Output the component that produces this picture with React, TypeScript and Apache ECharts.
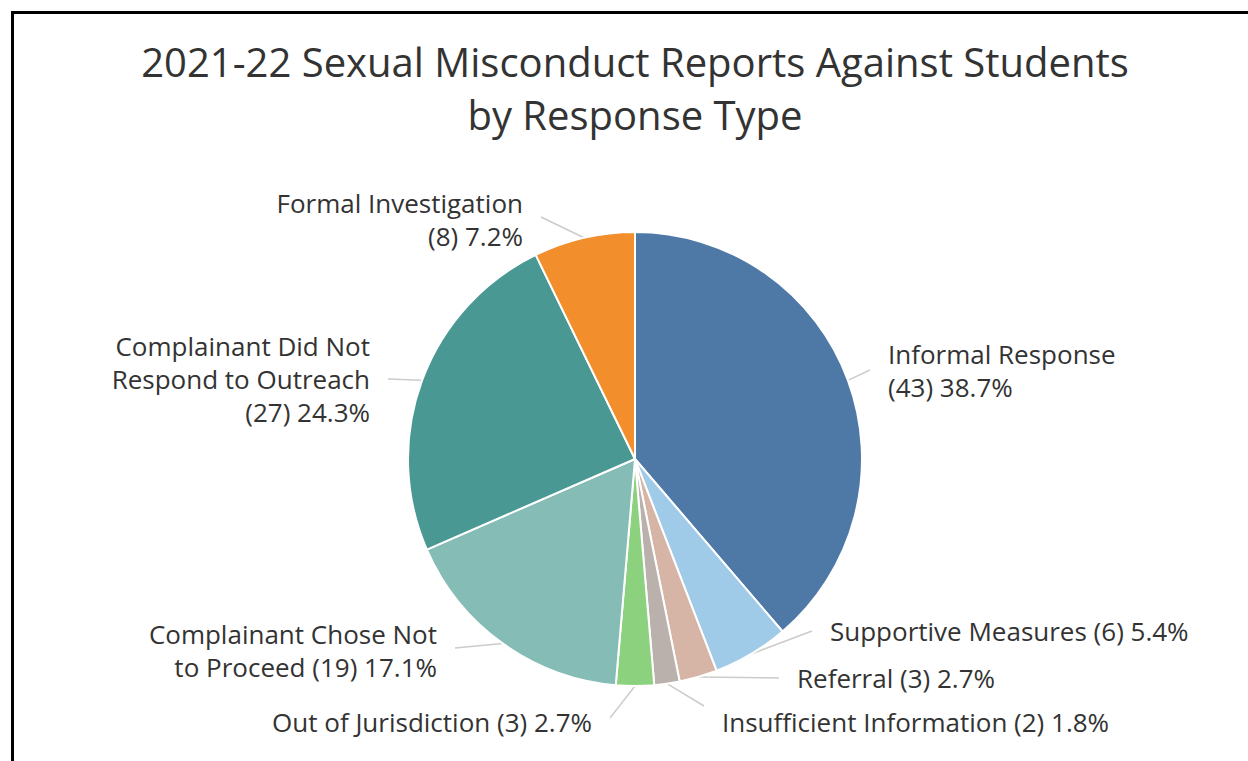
import React, { useEffect, useRef } from "react";
import * as echarts from "echarts";

const titleLines = [
  "2021-22 Sexual Misconduct Reports Against Students",
  "by Response Type",
];

const categories = [
  "Informal Response",
  "Supportive Measures",
  "Referral",
  "Insufficient Information",
  "Out of Jurisdiction",
  "Complainant Chose Not to Proceed",
  "Complainant Did Not Respond to Outreach",
  "Formal Investigation",
];

const counts = [43, 6, 3, 2, 3, 19, 27, 8];

// how each category name is wrapped in its label
const labelNames = [
  "Informal Response\n",
  "Supportive Measures ",
  "Referral ",
  "Insufficient Information ",
  "Out of Jurisdiction ",
  "Complainant Chose Not\nto Proceed ",
  "Complainant Did Not\nRespond to Outreach\n",
  "Formal Investigation\n",
];

const colors = [
  "#4e79a7",
  "#a0cbe8",
  "#d7b5a6",
  "#bab0ac",
  "#8cd17d",
  "#86bcb6",
  "#499894",
  "#f28e2b",
];

// label placement (layout only)
const placement: { x: number; y: number; align: "left" | "right"; dy: number }[] = [
  { x: 888, y: 370, align: "left", dy: 0 },
  { x: 830, y: 631, align: "left", dy: 0 },
  { x: 797, y: 678, align: "left", dy: 0 },
  { x: 722, y: 722, align: "left", dy: -16 },
  { x: 592, y: 722, align: "right", dy: -4 },
  { x: 437, y: 650, align: "right", dy: -2 },
  { x: 370, y: 379, align: "right", dy: 0 },
  { x: 523, y: 219, align: "right", dy: -2 },
];

const FONT = "'Open Sans', 'Noto Sans', sans-serif";
const TEXT = "#333333";

export default function App() {
  const ref = useRef<HTMLDivElement>(null);

  useEffect(() => {
    if (!ref.current) return;
    const chart = echarts.init(ref.current, undefined, { renderer: "svg" });
    const total = counts.reduce((a, b) => a + b, 0);
    const gap = 18;

    chart.setOption({
      animation: false,
      backgroundColor: "#ffffff",
      graphic: [
        {
          type: "rect",
          shape: { x: 12.5, y: 12.5, width: 1400, height: 900 },
          style: { fill: "none", stroke: "#000000", lineWidth: 3 },
          silent: true,
        },
        {
          type: "text",
          x: 635,
          y: 35,
          style: {
            text: titleLines.join("\n"),
            font: `40px ${FONT}`,
            fill: TEXT,
            textAlign: "center",
            textVerticalAlign: "top",
            lineHeight: 53,
          },
        },
      ],
      series: [
        {
          type: "pie",
          center: [635, 459],
          radius: 227,
          startAngle: 90,
          clockwise: true,
          avoidLabelOverlap: false,
          itemStyle: { borderColor: "#ffffff", borderWidth: 2 },
          emphasis: { disabled: true },
          label: {
            show: true,
            position: "outside",
            fontFamily: FONT,
            fontSize: 26,
            color: TEXT,
            lineHeight: 33,
            formatter: (p: any) =>
              `${labelNames[p.dataIndex]}(${p.value}) ${((p.value / total) * 100).toFixed(1)}%`,
          },
          labelLine: {
            show: true,
            lineStyle: { color: "#cccccc", width: 1.5 },
          },
          labelLayout: (p: any) => {
            const pl = placement[p.dataIndex];
            const pts = p.labelLinePoints;
            const start = pts && pts[0] ? pts[0] : [0, 0];
            const end = [pl.align === "left" ? pl.x - gap : pl.x + gap, pl.y + pl.dy];
            return {
              x: pl.x,
              y: pl.y,
              align: pl.align,
              verticalAlign: "middle",
              labelLinePoints: [start, start, end],
            };
          },
          data: categories.map((name, i) => ({
            name,
            value: counts[i],
            itemStyle: { color: colors[i] },
          })),
        },
      ],
    });

    return () => chart.dispose();
  }, []);

  return (
    <div
      ref={ref}
      style={{ position: "absolute", left: 0, top: 0, width: 1248, height: 761 }}
    />
  );
}
